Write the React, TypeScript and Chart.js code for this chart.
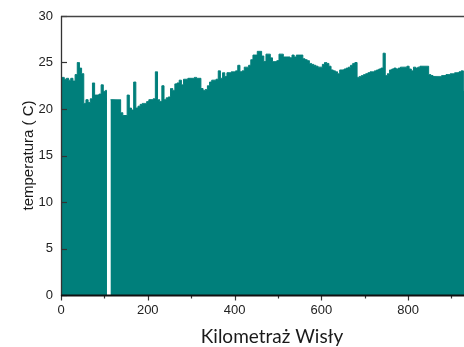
import { useEffect, useRef } from 'react';
import { Chart, registerables } from 'chart.js';

Chart.register(...registerables);

// River kilometre of each sample
const kilometers = [
  0, 5, 10, 15, 20, 25, 30, 35, 40, 45, 50, 55, 60, 65, 70, 75, 80, 85, 90, 95,
  100, 105, 106, 110, 114, 115, 120, 125, 130, 135, 140, 145, 150, 155, 160, 165, 170, 175, 180, 185, 190, 195,
  200, 205, 210, 215, 220, 225, 230, 235, 240, 245, 250, 255, 260, 265, 270, 275, 280, 285, 290, 295,
  300, 305, 310, 315, 320, 325, 330, 335, 340, 345, 350, 355, 360, 365, 370, 375, 380, 385, 390, 395,
  400, 405, 410, 415, 420, 425, 430, 435, 440, 445, 450, 455, 460, 465, 470, 475, 480, 485, 490, 495,
  500, 505, 510, 515, 520, 525, 530, 535, 540, 545, 550, 555, 560, 565, 570, 575, 580, 585, 590, 595,
  600, 605, 610, 615, 620, 625, 630, 635, 640, 645, 650, 655, 660, 665, 670, 675, 680, 685, 690, 695,
  700, 705, 710, 715, 720, 725, 730, 735, 740, 745, 750, 755, 760, 765, 770, 775, 780, 785, 790, 795,
  800, 805, 810, 815, 820, 825, 830, 835, 840, 845, 850, 855, 860, 865, 870, 875, 880, 885, 890, 895,
  900, 905, 910, 915, 920, 925, 930,
];

// Water temperature (C) at each kilometre; null = no measurement
const temperatures: (number | null)[] = [
  23.3, 23.4, 23.2, 23.3, 23.1, 23.3, 23.0, 23.7, 25.0, 24.4, 23.8, 20.6, 21.0, 20.7, 21.1, 22.8, 21.5, 21.5, 21.6, 22.6,
  21.9, 22.0, 22.0, null, 21.0, 21.0, 21.0, 21.0, 21.0, 21.0, 19.6, 19.3, 19.3, 21.5, 20.1, 19.9, 22.9, 20.1, 20.3, 20.5, 20.6, 20.6,
  20.8, 21.0, 21.0, 21.1, 24.0, 21.0, 20.8, 22.5, 21.0, 21.2, 21.3, 22.2, 22.0, 22.7, 22.8, 23.1, 22.6, 23.2, 23.2, 23.3,
  23.3, 23.3, 23.4, 23.3, 23.3, 22.2, 22.0, 22.1, 22.5, 22.9, 23.1, 23.1, 23.2, 24.1, 23.3, 23.9, 23.5, 23.9, 23.9, 24.0,
  24.0, 24.1, 24.7, 24.0, 24.1, 24.5, 24.5, 24.7, 25.3, 25.8, 25.8, 26.2, 26.2, 25.7, 25.1, 25.9, 25.9, 25.5, 25.1, 25.1,
  25.2, 25.9, 25.9, 25.6, 25.6, 25.6, 25.5, 25.8, 25.6, 25.8, 25.8, 25.8, 25.4, 25.3, 25.2, 24.9, 24.8, 24.7, 24.6, 24.5,
  24.5, 24.8, 25.0, 24.9, 24.6, 24.2, 24.1, 24.0, 23.8, 24.2, 24.2, 24.3, 24.4, 24.5, 24.7, 24.9, 25.0, 23.4, 23.5, 23.6,
  23.7, 23.8, 23.9, 24.0, 24.0, 24.1, 24.2, 24.3, 24.4, 26.0, 23.6, 23.8, 24.2, 24.3, 24.4, 24.3, 24.4, 24.5, 24.5, 24.5,
  24.6, 24.3, 24.1, 24.5, 24.4, 24.5, 24.6, 24.6, 24.6, 24.6, 23.7, 23.6, 23.5, 23.5, 23.5, 23.5, 23.6, 23.6, 23.7, 23.7,
  23.8, 23.8, 23.9, 23.9, 24.0, 24.1, 22.0,
];

const xMajorTicks = [0, 200, 400, 600, 800];
const xMinorTicks = [100, 300, 500, 700, 900];
const yTicks = [0, 5, 10, 15, 20, 25, 30];
const xTitle = 'Kilometraż Wisły';
const yTitle = 'temperatura ( C)';

const TEAL = '#007f7b';

export default function App() {
  const ref = useRef<HTMLCanvasElement | null>(null);

  useEffect(() => {
    document.body.style.margin = '0';
    const canvas = ref.current;
    if (!canvas) return;

    const framePlugin = {
      id: 'frame',
      afterDatasetsDraw(chart: any) {
        const { ctx, chartArea } = chart;
        const xs = chart.scales.x;
        const ys = chart.scales.y;
        ctx.save();
        // y ticks (inward)
        ctx.strokeStyle = '#333';
        ctx.lineWidth = 1.2;
        yTicks.forEach((v) => {
          const py = Math.round(ys.getPixelForValue(v)) + 0.5;
          ctx.beginPath();
          ctx.moveTo(chartArea.left, py);
          ctx.lineTo(chartArea.left + 6, py);
          ctx.stroke();
        });
        // x ticks (outward)
        ctx.lineWidth = 1.2;
        xMajorTicks.forEach((v) => {
          const px = Math.round(xs.getPixelForValue(v)) + 0.5;
          ctx.beginPath();
          ctx.moveTo(px, chartArea.bottom);
          ctx.lineTo(px, chartArea.bottom + 5.5);
          ctx.stroke();
        });
        xMinorTicks.forEach((v) => {
          const px = Math.round(xs.getPixelForValue(v)) + 0.5;
          ctx.beginPath();
          ctx.moveTo(px, chartArea.bottom);
          ctx.lineTo(px, chartArea.bottom + 3.5);
          ctx.stroke();
        });
        // top border
        ctx.strokeStyle = '#444';
        ctx.lineWidth = 1.5;
        ctx.beginPath();
        ctx.moveTo(chartArea.left, chartArea.top + 0.5);
        ctx.lineTo(chartArea.right, chartArea.top + 0.5);
        ctx.stroke();
        // left axis
        ctx.strokeStyle = '#333';
        ctx.lineWidth = 1.3;
        ctx.beginPath();
        ctx.moveTo(chartArea.left + 0.5, chartArea.top);
        ctx.lineTo(chartArea.left + 0.5, chartArea.bottom + 1);
        ctx.stroke();
        // bottom axis
        ctx.strokeStyle = '#111';
        ctx.lineWidth = 2;
        ctx.beginPath();
        ctx.moveTo(chartArea.left, chartArea.bottom + 0.5);
        ctx.lineTo(chartArea.right, chartArea.bottom + 0.5);
        ctx.stroke();

        // titles
        ctx.fillStyle = '#1a1a1a';
        ctx.font = '19px Lato, "Open Sans", sans-serif';
        ctx.textAlign = 'center';
        ctx.textBaseline = 'alphabetic';
        ctx.fillText(xTitle, 272, 343);

        ctx.translate(33, (chartArea.top + chartArea.bottom) / 2);
        ctx.rotate(-Math.PI / 2);
        ctx.font = '15px "Liberation Sans", Arial, sans-serif';
        ctx.fillStyle = '#1a1a1a';
        ctx.textBaseline = 'alphabetic';
        ctx.fillText(yTitle, 0, 0);
        ctx.restore();
      },
    };

    const chart = new Chart(canvas, {
      type: 'line',
      data: {
        datasets: [
          {
            data: kilometers.map((k, i) => ({ x: k, y: temperatures[i] })),
            borderColor: TEAL,
            backgroundColor: TEAL,
            borderWidth: 1,
            pointRadius: 0,
            stepped: 'middle',
            fill: 'origin',
            spanGaps: false,
          },
        ],
      },
      options: {
        animation: false,
        responsive: false,
        events: [],
        layout: { padding: { top: 16, right: 0, left: 0, bottom: 0 } },
        plugins: {
          legend: { display: false },
          tooltip: { enabled: false },
        },
        scales: {
          x: {
            type: 'linear',
            min: 0,
            max: 929,
            grid: { display: false, drawTicks: false },
            border: { display: false },
            afterFit: (s: any) => {
              s.height = 52;
            },
            ticks: {
              stepSize: 200,
              includeBounds: false,
              padding: 8,
              maxRotation: 0,
              color: '#222',
              font: { family: '"Liberation Sans", Arial, sans-serif', size: 13 },
            },
          },
          y: {
            min: 0,
            max: 30,
            grid: { display: false, drawTicks: false },
            border: { display: false },
            afterFit: (s: any) => {
              s.width = 61;
            },
            ticks: {
              stepSize: 5,
              padding: 8,
              color: '#222',
              font: { family: '"Liberation Sans", Arial, sans-serif', size: 13 },
            },
          },
        },
      },
      plugins: [framePlugin],
    });

    return () => chart.destroy();
  }, []);

  return (
    <div style={{ width: 464, height: 347 }}>
      <canvas ref={ref} width={464} height={347} style={{ display: 'block' }} />
    </div>
  );
}
